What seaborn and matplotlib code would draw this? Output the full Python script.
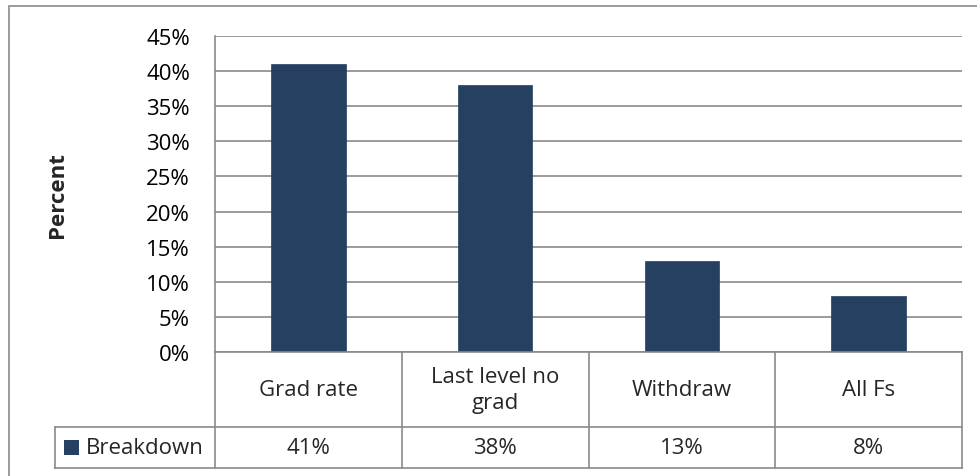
import textwrap

import matplotlib
matplotlib.use("Agg")
import matplotlib.pyplot as plt
from matplotlib.patches import Rectangle
from matplotlib.lines import Line2D
import pandas as pd
import seaborn as sns

# Data
categories = ["Grad rate", "Last level no grad", "Withdraw", "All Fs"]
breakdown = [0.41, 0.38, 0.13, 0.08]
series_name = "Breakdown"
y_ticks = [0.00, 0.05, 0.10, 0.15, 0.20, 0.25, 0.30, 0.35, 0.40, 0.45]

BAR_COLOR = "#254061"
LINE_COLOR = "#8a8a8a"
FONT_SIZE = 16

sns.set_theme(style="white")
plt.rcParams["font.family"] = ["Open Sans", "DejaVu Sans"]

W, H = 978, 477
fig = plt.figure(figsize=(W / 100, H / 100), dpi=100)
fig.patch.set_facecolor("white")


def px_axes(x0, y0, x1, y1):
    """Add axes given pixel box (top-left origin)."""
    return fig.add_axes([x0 / W, (H - y1) / H, (x1 - x0) / W, (y1 - y0) / H])


# Outer chart frame
fig.add_artist(Rectangle((9 / W, -0.1), 1.2, (H - 7) / H + 0.1,
                         transform=fig.transFigure, fill=False,
                         edgecolor=LINE_COLOR, linewidth=1.2))

# Plot area
PLOT_L, PLOT_R, PLOT_T, PLOT_B = 215, 962, 37, 353
ax = px_axes(PLOT_L, PLOT_T, PLOT_R, PLOT_B)

df = pd.DataFrame({"category": categories, "value": breakdown})
sns.barplot(data=df, x="category", y="value", order=categories,
            color=BAR_COLOR, saturation=1, width=0.4, ax=ax,
            edgecolor=BAR_COLOR, linewidth=0.5)

n = len(categories)
ax.set_xlim(-0.5, n - 0.5)
ax.set_ylim(y_ticks[0], y_ticks[-1])
ax.set_yticks(y_ticks)
ax.set_yticklabels([f"{t * 100:.0f}%" for t in y_ticks], fontsize=FONT_SIZE)
ax.tick_params(axis="y", length=0, pad=18, colors="black")
ax.set_xticks([])
ax.set_xlabel("")
ax.set_ylabel("Percent", fontsize=FONT_SIZE, fontweight="bold")
ax.yaxis.set_label_coords((68 - PLOT_L) / (PLOT_R - PLOT_L), 0.5)
ax.yaxis.grid(True, color=LINE_COLOR, linewidth=1.2)
ax.set_axisbelow(True)
for side in ["top", "right"]:
    ax.spines[side].set_visible(False)
ax.spines["bottom"].set_visible(False)
ax.spines["left"].set_color(LINE_COLOR)
ax.spines["left"].set_linewidth(1.2)

# Data table under the plot area
TAB_L, TAB_B = 55, 469
ROW_SPLIT = 428
tab = px_axes(PLOT_L, PLOT_B, PLOT_R, TAB_B)
tab.set_xlim(-0.5, n - 0.5)
tab.set_ylim(TAB_B, PLOT_B)  # pixel rows, top-down
tab.axis("off")

col_w = (PLOT_R - PLOT_L) / n
legend_left = -0.5 - (PLOT_L - TAB_L) / col_w


def hline(x0, x1, y):
    tab.add_line(Line2D([x0, x1], [y, y], color=LINE_COLOR, linewidth=1.2,
                        clip_on=False, solid_capstyle="projecting"))


def vline(x, y0, y1):
    tab.add_line(Line2D([x, x], [y0, y1], color=LINE_COLOR, linewidth=1.2,
                        clip_on=False, solid_capstyle="projecting"))


hline(-0.5, n - 0.5, PLOT_B)
hline(legend_left, n - 0.5, ROW_SPLIT)
hline(legend_left, n - 0.5, TAB_B)
for i in range(n + 1):
    vline(i - 0.5, PLOT_B, TAB_B)
vline(legend_left, ROW_SPLIT, TAB_B)

cat_mid = (PLOT_B + ROW_SPLIT) / 2
val_mid = (ROW_SPLIT + TAB_B) / 2
for i, (cat, val) in enumerate(zip(categories, breakdown)):
    tab.text(i, cat_mid, textwrap.fill(cat, 13), ha="center", va="center",
             fontsize=FONT_SIZE, linespacing=1.3)
    tab.text(i, val_mid, f"{val * 100:.0f}%", ha="center", va="center",
             fontsize=FONT_SIZE)

# Legend key cell
key_px = 15
key_x0 = legend_left + 9 / col_w
tab.add_patch(Rectangle((key_x0, val_mid + key_px / 2), key_px / col_w, -key_px,
                        facecolor=BAR_COLOR, edgecolor="none", clip_on=False))
tab.text(key_x0 + (key_px + 7) / col_w, val_mid, series_name, ha="left",
         va="center", fontsize=FONT_SIZE)

fig.savefig("out.png", dpi=100, facecolor="white")
